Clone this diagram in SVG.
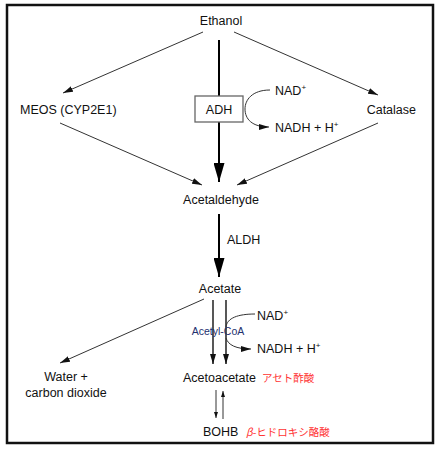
<svg xmlns="http://www.w3.org/2000/svg" width="444" height="452" viewBox="0 0 444 452">
<style>
text{font-family:"Liberation Sans",Arial,sans-serif;font-size:12.5px;fill:#111}
.c{text-anchor:middle}
.jp{font-family:"Noto Sans CJK JP","Liberation Sans",sans-serif;font-size:10.5px;fill:#ff3333}
.sup{font-size:8px}
.thin{stroke:#333;stroke-width:1;fill:none}
.med{stroke:#111;stroke-width:1.4;fill:none}
.thick{stroke:#000;stroke-width:2;fill:none}
</style>
<defs>
<marker id="a" viewBox="0 0 10 6" refX="10" refY="3" markerWidth="10" markerHeight="6" orient="auto" markerUnits="userSpaceOnUse"><path d="M0,0 L10,3 L0,6 z" fill="#111"/></marker>
<marker id="b" viewBox="0 0 19 11" refX="19" refY="5.5" markerWidth="19" markerHeight="11" orient="auto" markerUnits="userSpaceOnUse"><path d="M0,0 L19,5.5 L0,11 z" fill="#000"/></marker>
<marker id="s" viewBox="0 0 6 4" refX="6" refY="2" markerWidth="6" markerHeight="4" orient="auto" markerUnits="userSpaceOnUse"><path d="M0,0 L6,2 L0,4 z" fill="#111"/></marker>
</defs>
<rect x="0" y="0" width="444" height="452" fill="#fff"/>
<rect x="7" y="5" width="426" height="438" fill="#fff" stroke="#111" stroke-width="2.5"/>
<g id="connectors">
<line class="thin" x1="203" y1="32" x2="63" y2="93" marker-end="url(#a)"/>
<line class="thin" x1="234" y1="32" x2="378" y2="95" marker-end="url(#a)"/>
<line class="thin" x1="60" y1="123" x2="202" y2="185" marker-end="url(#a)"/>
<line class="thin" x1="378" y1="123" x2="237" y2="185" marker-end="url(#a)"/>
<line class="thick" x1="219" y1="40" x2="219" y2="182" marker-end="url(#b)"/>
<path class="thin" d="M270,90 C252,90 245,100 245,109 C245,119 252,127 269,127" marker-end="url(#a)"/>
<line class="thick" x1="219" y1="214" x2="219" y2="277" marker-end="url(#b)"/>
<line class="thin" x1="204" y1="299" x2="60" y2="363" marker-end="url(#a)"/>
<line class="med" x1="213" y1="300" x2="213" y2="364" marker-end="url(#a)"/>
<line class="med" x1="226" y1="300" x2="226" y2="364" marker-end="url(#a)"/>
<path class="thin" d="M255,314 C238,314 227,318 226,327"/>
<path class="thin" d="M226,338 C228,345 236,349 251,349" marker-end="url(#a)"/>
<line class="thin" x1="216" y1="390" x2="216" y2="418" marker-end="url(#s)"/>
<line class="thin" x1="223" y1="419" x2="223" y2="391" marker-end="url(#s)"/>
</g>
<g id="ethanol"><text class="c" x="221" y="25">Ethanol</text></g>
<g id="meos"><text x="20" y="114">MEOS (CYP2E1)</text></g>
<g id="catalase"><text x="416" y="114" text-anchor="end">Catalase</text></g>
<g id="adh"><rect x="195" y="96" width="48" height="26" fill="#fff" stroke="#666" stroke-width="1.3"/><text class="c" x="219" y="114">ADH</text></g>
<g id="nad1"><text x="275" y="95">NAD<tspan class="sup" dy="-5">+</tspan></text></g>
<g id="nadh1"><text x="275" y="132">NADH + H<tspan class="sup" dy="-5">+</tspan></text></g>
<g id="acetaldehyde"><text class="c" x="221" y="204">Acetaldehyde</text></g>
<g id="aldh"><text x="227" y="244">ALDH</text></g>
<g id="acetate"><text class="c" x="220" y="293">Acetate</text></g>
<g id="acetylcoa"><text class="c" x="218" y="335" style="font-size:10.5px;fill:#22306e">Acetyl-CoA</text></g>
<g id="nad2"><text x="257" y="320">NAD<tspan class="sup" dy="-5">+</tspan></text></g>
<g id="nadh2"><text x="257" y="353">NADH + H<tspan class="sup" dy="-5">+</tspan></text></g>
<g id="water"><text class="c" x="66" y="381">Water +</text><text class="c" x="66" y="397">carbon dioxide</text></g>
<g id="acetoacetate"><text x="183" y="382">Acetoacetate</text><text class="jp" x="262" y="382">アセト酢酸</text></g>
<g id="bohb"><text x="203" y="436">BOHB</text><text class="jp" x="246" y="436"><tspan font-style="italic">β</tspan>-ヒドロキシ酪酸</text></g>
</svg>
